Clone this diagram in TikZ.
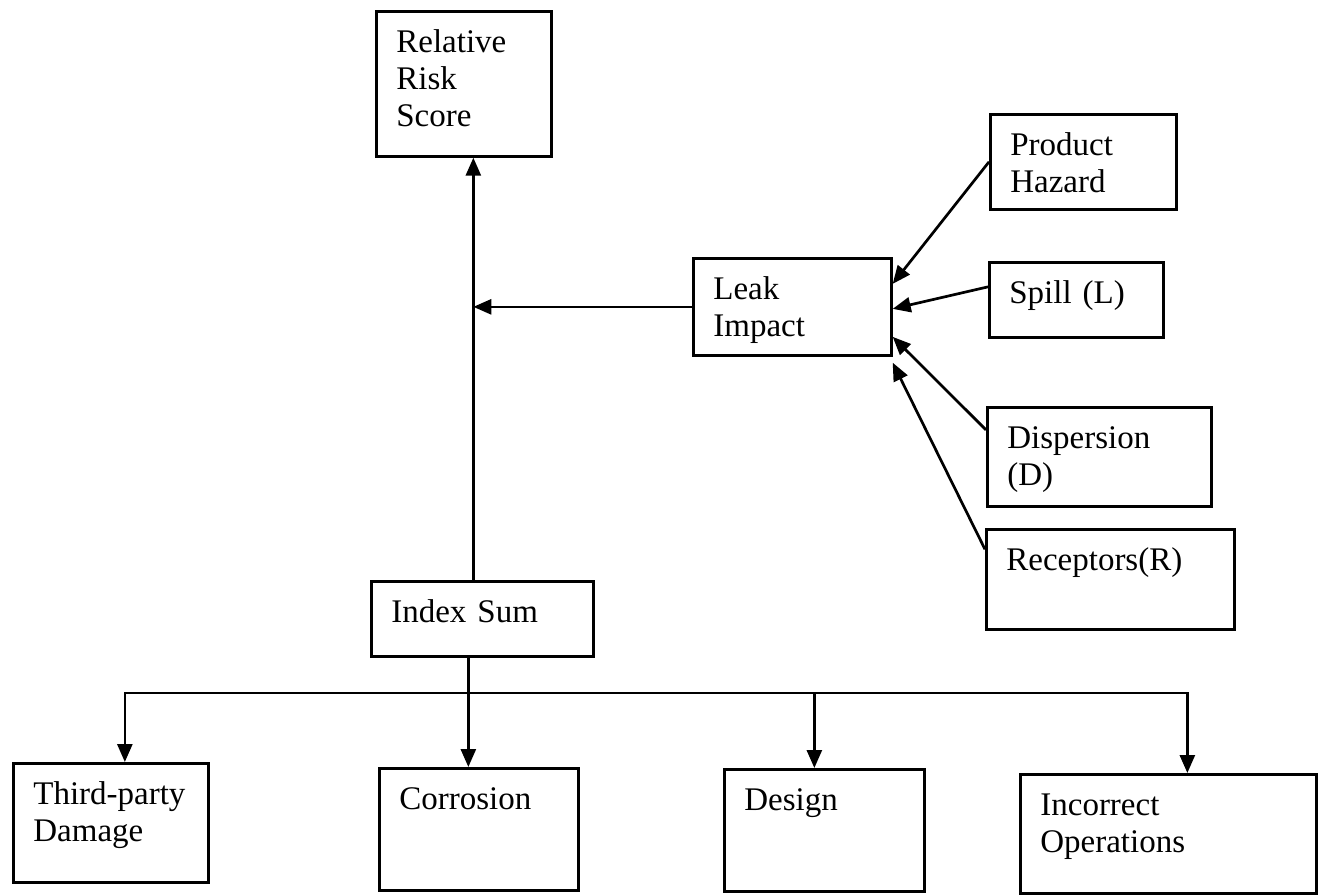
\documentclass[tikz,border=0pt]{standalone}
\usepackage{fontspec}
\setmainfont{Liberation Serif}
\usepackage{tikz}
\usetikzlibrary{arrows.meta}

\tikzset{
	blk/.style 2 args={draw, line width=2.7pt, anchor=north west, align=left, inner xsep=20pt, inner ysep=0pt,
		text width=#1, text height=41pt, text depth=#2, font=\fontsize{33pt}{37pt}\selectfont},
	arr/.style={line width=2.7pt, -{Triangle[length=18pt,width=15pt]}}
}

\begin{document}
\begin{tikzpicture}[x=1pt, y=-1pt]
			
			\useasboundingbox (0,0) rectangle (1322,894);
			
			% top part
			\node [blk={135pt}{104pt}] (rrs) at (375,10) {Relative\\Risk\\Score};
			\node [blk={158pt}{56pt}] (li) at (692,257) {Leak\\Impact};
			\node [blk={182pt}{34pt}] (isum) at (370,580) {Index Sum};
			
			% leak impact inputs
			\node [blk={146pt}{54pt}] (ph) at (989,113) {Product\\Hazard};
			\node [blk={134pt}{34pt}] (spill) at (988,261) {Spill (L)};
			\node [blk={184pt}{58pt}] (disp) at (986,406) {Dispersion\\(D)};
			\node [blk={208pt}{59pt}] (rec) at (985,528) {Receptors(R)};
			
			% index sum parts
			\node [blk={155pt}{78pt}] (tpd) at (12,762) {Third-party\\Damage};
			\node [blk={159pt}{81pt}] (cor) at (378,767) {Corrosion};
			\node [blk={160pt}{81pt}] (des) at (723,768) {Design};
			\node [blk={256pt}{78pt}] (inc) at (1019,773) {Incorrect\\Operations};
			
			\coordinate (vtop) at ([xshift=-9pt]isum.north);
			\coordinate (vbot) at ([xshift=-14pt]isum.south);
			\coordinate (bar) at (0,693);
			
			\draw [arr] (vtop) -- (vtop |- rrs.south);
			\draw [arr] (li.west) -- (li.west -| vtop);
			
			\draw [arr] (ph.west) -- ([yshift=23pt]li.east);
			\draw [arr] ([yshift=13pt]spill.west) -- ([yshift=-2pt]li.east);
			\draw [arr] ([yshift=27pt]disp.west) -- ([yshift=-30pt]li.east);
			\draw [arr] ([yshift=30pt]rec.west) -- ([yshift=-6pt]li.south east);
			
			\draw [arr] (vbot) -- (vbot |- cor.north);
			\foreach \b/\s in {tpd/14, des/-10, inc/19}
			\draw [arr] (vbot |- bar) -| ([xshift=\s pt]\b.north);
			
\end{tikzpicture}
\end{document}
